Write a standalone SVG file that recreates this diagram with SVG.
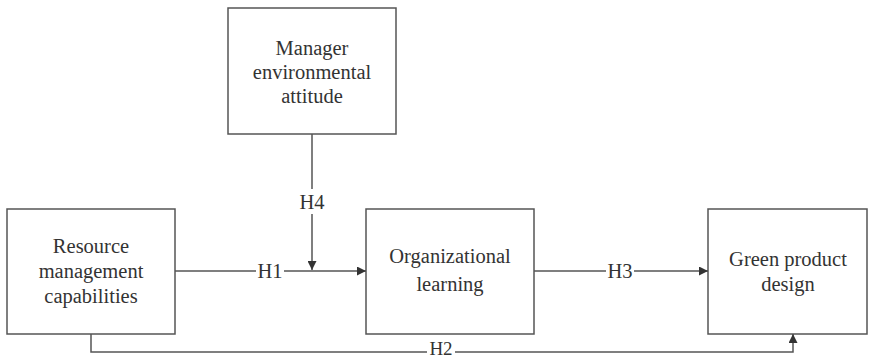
<svg xmlns="http://www.w3.org/2000/svg" width="871" height="359" viewBox="0 0 871 359">
<defs>
<style>
.box{fill:#fff;stroke:#555;stroke-width:1.5}
.t{font-family:"Liberation Serif","Times New Roman",serif;font-size:20.5px;fill:#333;text-anchor:middle}
.ln{fill:none;stroke:#555;stroke-width:1.5}
</style>
<marker id="ah" viewBox="0 0 10 10" refX="10" refY="5" markerWidth="10" markerHeight="9" markerUnits="userSpaceOnUse" orient="auto"><path d="M0,0 L10,5 L0,10 z" fill="#333"/></marker>
</defs>
<rect width="871" height="359" fill="#fff"/>
<g id="mea"><rect class="box" x="228" y="8" width="168" height="126"/>
<text class="t" x="312" y="55">Manager</text><text class="t" x="312" y="79">environmental</text><text class="t" x="312" y="103">attitude</text></g>
<g id="rmc"><rect class="box" x="7" y="209" width="168" height="125"/>
<text class="t" x="91" y="253">Resource</text><text class="t" x="91" y="278">management</text><text class="t" x="91" y="303">capabilities</text></g>
<g id="ol"><rect class="box" x="366" y="209" width="168" height="125"/>
<text class="t" x="450" y="263">Organizational</text><text class="t" x="450" y="291">learning</text></g>
<g id="gpd"><rect class="box" x="708" y="209" width="159" height="125"/>
<text class="t" x="788" y="266">Green product</text><text class="t" x="788" y="291">design</text></g>
<g id="connectors">
<path class="ln" d="M312,134 V189"/>
<path class="ln" d="M312,214 V270" marker-end="url(#ah)"/>
<text class="t" x="312" y="209">H4</text>
<path class="ln" d="M175,271 H256"/>
<path class="ln" d="M284,271 H366" marker-end="url(#ah)"/>
<text class="t" x="270" y="278">H1</text>
<path class="ln" d="M534,271 H606"/>
<path class="ln" d="M634,271 H708" marker-end="url(#ah)"/>
<text class="t" x="620" y="278">H3</text>
<path class="ln" d="M91,334 V352 H427"/>
<path class="ln" d="M455,352 H793 V334" marker-end="url(#ah)"/>
<text class="t" x="441" y="355" style="font-size:19px">H2</text>
</g>
</svg>
